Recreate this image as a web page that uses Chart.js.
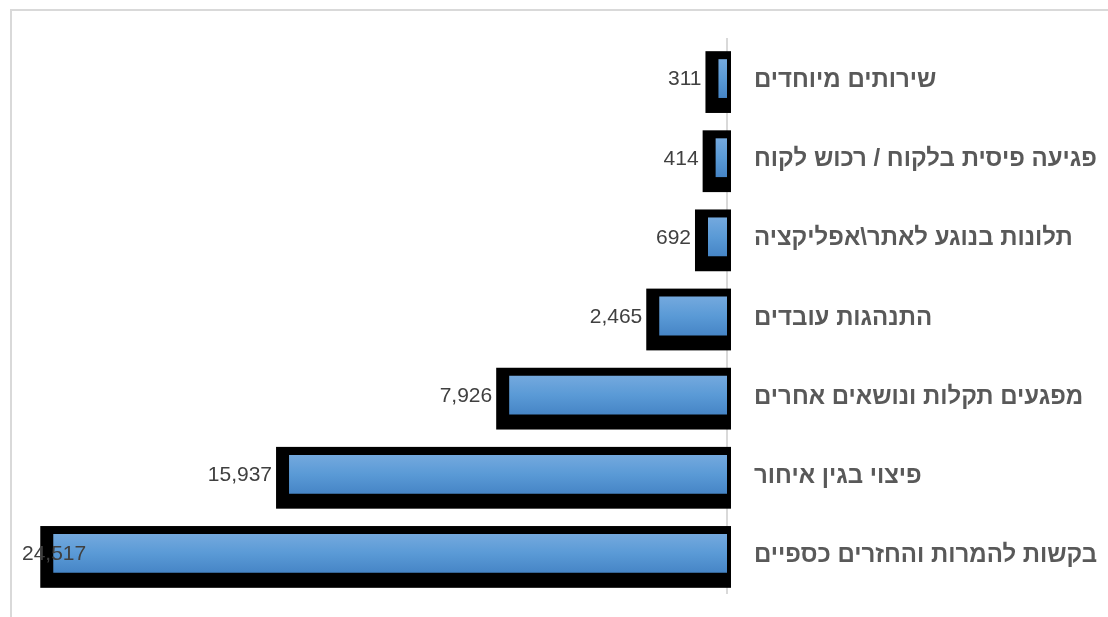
<!DOCTYPE html>
<html lang="he">
<head>
<meta charset="utf-8">
<title>Complaints by category</title>
<script src="https://cdn.jsdelivr.net/npm/chart.js@4.4.1/dist/chart.umd.min.js"></script>
<style>
    body { margin: 0; background: #fff; overflow: hidden; }
    #wrap { position: relative; width: 1108px; height: 617px; overflow: hidden; }
    #frame {
        position: absolute; left: 10px; top: 9px; width: 1200px; height: 700px;
        border-top: 2px solid #d9d9d9; border-left: 2px solid #d9d9d9;
    }
    #box { position: absolute; left: 0; top: 0; width: 1108px; height: 617px; }
</style>
</head>
<body>
<div id="wrap">
    <div id="frame"></div>
    <div id="box"><canvas id="complaintsChart"></canvas></div>
</div>
<script>
const categories = [
    "שירותים מיוחדים",
    "פגיעה פיסית בלקוח / רכוש לקוח",
    "תלונות בנוגע לאתר\\אפליקציה",
    "התנהגות עובדים",
    "מפגעים תקלות ונושאים אחרים",
    "פיצוי בגין איחור",
    "בקשות להמרות והחזרים כספיים"
];
const complaintCounts = [311, 414, 692, 2465, 7926, 15937, 24517];

const BAR_PCT = 0.49;

function barGradient(context) {
    const chart = context.chart;
    const yScale = chart.scales.y;
    if (!yScale || context.dataIndex === undefined) {
        return "#5b9bd5";
    }
    const yc = yScale.getPixelForValue(context.dataIndex);
    const h = (yScale.height / categories.length) * BAR_PCT;
    if (!isFinite(yc) || !isFinite(h) || h <= 0) {
        return "#5b9bd5";
    }
    const grad = chart.ctx.createLinearGradient(0, yc - h / 2, 0, yc + h / 2);
    grad.addColorStop(0, "#74a9de");
    grad.addColorStop(0.5, "#5a9ad6");
    grad.addColorStop(1, "#4685c6");
    return grad;
}

// black block sitting behind each bar
const barBacking = {
    id: "barBacking",
    beforeDatasetsDraw(chart) {
        const ctx = chart.ctx;
        const meta = chart.getDatasetMeta(0);
        ctx.save();
        ctx.fillStyle = "#000";
        meta.data.forEach(bar => {
            const p = bar.getProps(["x", "y", "base", "height"], true);
            const top = p.y - p.height / 2;
            ctx.fillRect(p.x - 13, top - 8, (p.base + 4) - (p.x - 13), p.height + 23);
        });
        ctx.restore();
    }
};

const valueLabels = {
    id: "valueLabels",
    afterDatasetsDraw(chart) {
        const ctx = chart.ctx;
        const meta = chart.getDatasetMeta(0);
        ctx.save();
        ctx.font = "21px 'Liberation Sans', Arial, sans-serif";
        ctx.fillStyle = "#404040";
        ctx.textBaseline = "middle";
        meta.data.forEach((bar, i) => {
            const text = complaintCounts[i].toLocaleString("en-US");
            const w = ctx.measureText(text).width;
            let x = bar.x - 17;
            if (x - w < 22) {
                ctx.textAlign = "left";
                x = 22;
            } else {
                ctx.textAlign = "right";
            }
            ctx.fillText(text, x, bar.y + 1);
        });
        ctx.restore();
    }
};

new Chart(document.getElementById("complaintsChart"), {
    type: "bar",
    data: {
        labels: categories,
        datasets: [{
            data: complaintCounts,
            backgroundColor: barGradient,
            borderWidth: 0,
            categoryPercentage: 1,
            barPercentage: BAR_PCT
        }]
    },
    options: {
        indexAxis: "y",
        responsive: true,
        maintainAspectRatio: false,
        animation: false,
        layout: {
            padding: { left: 40, top: 39, bottom: 24, right: 0 }
        },
        plugins: {
            legend: { display: false },
            tooltip: { enabled: false }
        },
        scales: {
            x: {
                display: false,
                reverse: true,
                min: 0,
                max: 25000
            },
            y: {
                position: "right",
                z: 1,
                grid: { display: false },
                border: { display: true, color: "#d9d9d9", width: 2 },
                ticks: {
                    padding: 19,
                    labelOffset: 2,
                    color: "#595959",
                    font: { family: "'Liberation Sans', Arial, sans-serif", size: 24, weight: "bold" }
                },
                afterFit(scale) {
                    scale.width = 381;
                    scale.paddingTop = 0;
                    scale.paddingBottom = 0;
                }
            }
        }
    },
    plugins: [barBacking, valueLabels]
});
</script>
</body>
</html>
